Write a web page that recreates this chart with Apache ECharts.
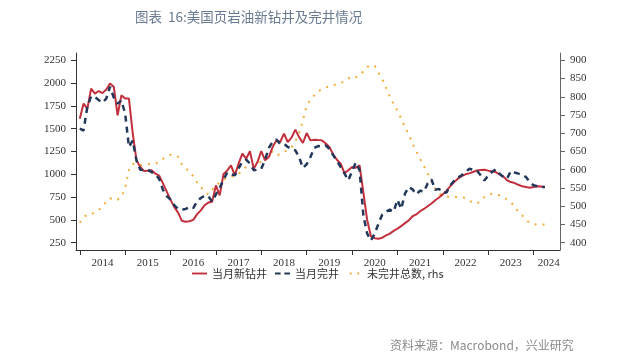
<!DOCTYPE html>
<html>
<head>
<meta charset="utf-8">
<script src="https://cdn.jsdelivr.net/npm/echarts@6/dist/echarts.min.js"></script>
<style>html,body{margin:0;padding:0;background:#fff;}#c{width:640px;height:364px;}</style>
</head>
<body>
<div id="c"></div>
<script>
// Monthly data, Jan 2014 .. Apr 2024
const firstYear = 2014;
const newDrilled = [
1610,1775,1720,1940,1885,1913,1890,1930,1995,1960,1646,1866,
1830,1830,1450,1153,1080,1035,1040,1045,1007,985,900,810,
720,640,580,490,480,485,500,560,605,660,690,700,
878,769,1000,1043,1098,988,1117,1226,1171,1252,1062,1134,
1255,1153,1189,1299,1372,1354,1446,1354,1402,1490,1408,1343,
1452,1372,1380,1375,1372,1340,1299,1220,1160,1117,1013,1045,
1080,1073,1098,800,500,320,300,294,305,330,350,380,
404,432,465,495,540,560,595,620,650,680,715,745,
780,820,870,915,952,980,1000,1010,1025,1043,1047,1050,
1040,1032,1025,1000,977,935,915,904,885,868,860,853,
860,868,865,860
];
const completed = [
1500,1480,1740,1855,1847,1815,1785,1830,1960,1840,1775,1810,
1665,1300,1370,1150,1050,1045,1050,1024,1000,950,830,760,
722,660,620,612,620,641,630,700,740,765,760,700,
780,850,940,1020,1000,988,1065,1140,1160,1120,1045,1050,
1060,1160,1290,1354,1380,1335,1336,1300,1280,1262,1189,1070,
1110,1189,1290,1310,1305,1317,1280,1210,1150,1080,1010,935,
1030,1130,1045,550,350,275,350,460,560,590,612,590,
720,620,787,860,835,780,820,810,900,945,830,840,
795,800,880,930,963,990,1024,1060,1050,1043,990,933,
985,1024,1055,1007,970,952,1035,1020,1007,995,970,915,
880,868,862,860
];
const duc = [
455,470,477,478,483,489,500,512,522,516,518,526,
548,600,616,617,612,613,615,616,617,622,630,636,
641,640,636,615,603,596,582,565,553,540,532,545,
557,565,573,577,580,584,588,598,608,611,614,617,
622,628,642,650,640,642,648,655,662,678,700,735,
775,792,804,815,820,825,829,832,834,838,842,850,
856,853,858,870,882,886,885,866,848,825,800,780,
762,740,717,697,672,650,630,610,590,568,548,534,
530,527,525,525,525,525,522,515,510,507,515,525,
532,534,532,530,526,518,511,500,484,475,462,455,
451,450,450,450
];
const leftTicks = [250,500,750,1000,1250,1500,1750,2000,2250];
const rightTicks = [400,450,500,550,600,650,700,750,800,850,900];
const seriesNames = ['当月新钻井','当月完井','未完井总数, rhs'];

// Categories: Dec 2013 .. Aug 2024
const categories = ['2013-12'];
for (let y = 2014; y <= 2024; y++) {
  for (let m = 1; m <= 12; m++) {
    if (y === 2024 && m > 8) break;
    categories.push(y + '-' + (m < 10 ? '0' + m : m));
  }
}
function pad(arr) {
  const out = [null].concat(arr);
  while (out.length < categories.length) out.push(null);
  return out;
}

const C_RED = '#c22f3d', C_BLUE = '#22385a', C_ORANGE = '#f0ad3a';
const chart = echarts.init(document.getElementById('c'), null, {renderer: 'canvas'});
const axisFont = {fontFamily: 'Liberation Serif', fontSize: 11, color: '#333'};
chart.setOption({
  animation: false,
  backgroundColor: '#fff',
  title: {
    text: '图表  16:美国页岩油新钻井及完井情况',
    left: 130, top: 5,
    textStyle: {fontFamily: 'Noto Sans CJK SC', fontSize: 13.5, fontWeight: 'normal', color: '#687a91'}
  },
  graphic: [{
    type: 'text', left: 390, top: 339,
    style: {text: '资料来源：Macrobond，兴业研究', font: '12px "Noto Sans CJK SC"', fill: '#8a8a8a'}
  }],
  legend: {
    left: 187, top: 263,
    itemWidth: 15, itemHeight: 2.5, itemGap: 8,
    textStyle: {fontFamily: 'Noto Sans CJK SC', fontSize: 11, color: '#333'},
    data: [
      {name: seriesNames[0], icon: 'path://M0,0h16v2h-16z', itemStyle: {color: C_RED}},
      {name: seriesNames[1], icon: 'path://M0,0h6v2h-6zM10,0h6v2h-6z', itemStyle: {color: C_BLUE}},
      {name: seriesNames[2], icon: 'path://M3,0h2v2h-2zM11,0h2v2h-2zM0,0h0.01v2h-0.01zM16,0h0.01v2h-0.01z', itemStyle: {color: C_ORANGE}}
    ]
  },
  grid: {left: 76, right: 80, top: 53, bottom: 114, containLabel: false},
  xAxis: {
    type: 'category', data: categories, boundaryGap: false,
    axisLine: {lineStyle: {color: '#333', width: 1}},
    axisTick: {
      alignWithLabel: true, length: 5, lineStyle: {color: '#333'},
      interval: function (i, v) { return v.slice(5) === '01'; }
    },
    axisLabel: Object.assign({}, axisFont, {
      margin: 8,
      interval: function (i, v) {
        return (v.slice(0, 4) !== '2024' && v.slice(5) === '07') || v === '2024-05';
      },
      formatter: function (v) { return v.slice(0, 4); }
    }),
    splitLine: {show: false}
  },
  yAxis: [{
    type: 'value', min: 170, max: 2330, position: 'left',
    axisLine: {show: true, lineStyle: {color: '#333'}},
    axisTick: {show: true, length: 5, inside: false, customValues: leftTicks, lineStyle: {color: '#333'}},
    axisLabel: Object.assign({}, axisFont, {margin: 10, customValues: leftTicks,
      formatter: function (v) { return String(v); }}),
    splitLine: {show: false}
  }, {
    type: 'value', min: 380, max: 920, position: 'right',
    axisLine: {show: true, lineStyle: {color: '#666'}},
    axisTick: {show: true, length: 5, inside: false, customValues: rightTicks, lineStyle: {color: '#666'}},
    axisLabel: Object.assign({}, axisFont, {margin: 10, customValues: rightTicks,
      formatter: function (v) { return String(v); }}),
    splitLine: {show: false}
  }],
  series: [{
    name: seriesNames[0], type: 'line', yAxisIndex: 0, data: pad(newDrilled),
    showSymbol: false, symbol: 'none',
    lineStyle: {color: C_RED, width: 2},
    itemStyle: {color: C_RED}, z: 3
  }, {
    name: seriesNames[1], type: 'line', yAxisIndex: 0, data: pad(completed),
    showSymbol: false, symbol: 'none',
    lineStyle: {color: C_BLUE, width: 2.5, type: [6, 5]},
    itemStyle: {color: C_BLUE}, z: 4
  }, {
    name: seriesNames[2], type: 'line', yAxisIndex: 1, data: pad(duc),
    showSymbol: false, symbol: 'none',
    lineStyle: {color: C_ORANGE, width: 2, type: [2, 6]},
    itemStyle: {color: C_ORANGE}, z: 2
  }]
});
</script>
</body>
</html>
